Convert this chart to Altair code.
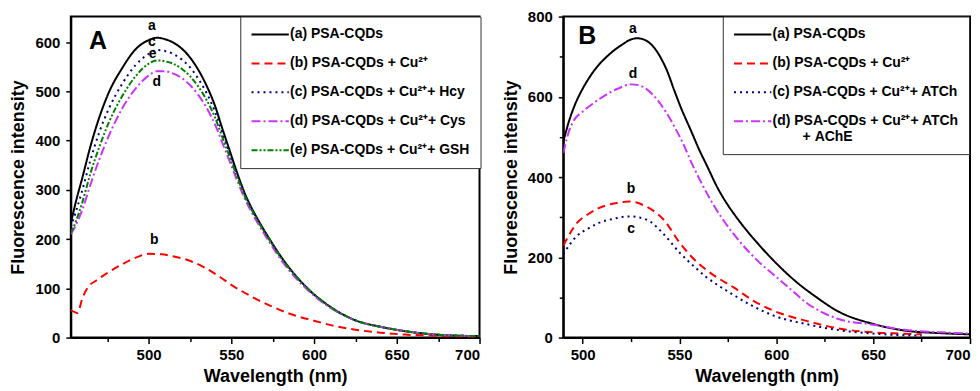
import altair as alt
import pandas as pd

FONT = "Liberation Sans"

# ---------------- Panel A data ----------------
wl_A = [453, 456, 460, 465, 470, 476, 484, 492, 500, 505, 510, 515, 520, 525, 530,
        535, 540, 545, 549, 554, 558, 562, 566, 572, 582, 596, 610, 625, 640, 655,
        670, 685, 700]
A_a = [232, 275, 325, 390, 445, 498, 547, 585, 604, 609, 606, 599, 587, 569, 544,
       512, 472, 420, 380, 330, 294, 265, 240, 206, 155, 100, 62, 35, 22, 13, 7, 4, 3]
A_c = [225, 255, 300, 362, 415, 465, 515, 553, 576, 584, 582, 576, 565, 549, 526,
       497, 460, 412, 374, 326, 291, 263, 238, 205, 154, 100, 62, 35, 22, 13, 7, 4, 3]
A_e = [212, 235, 275, 335, 385, 437, 490, 530, 556, 563, 561, 556, 546, 531, 510,
       483, 448, 403, 367, 322, 288, 261, 237, 204, 153, 100, 62, 35, 22, 13, 7, 4, 3]
A_d = [210, 228, 260, 312, 360, 410, 465, 505, 532, 541, 541, 536, 527, 513, 493,
       467, 434, 392, 358, 315, 283, 256, 232, 199, 149, 97, 60, 35, 22, 13, 7, 4, 3]
wl_A_b = [453, 457, 460, 464, 468, 474, 482, 492, 500, 508, 516, 524, 534, 544, 550,
          556, 564, 574, 584, 600, 612, 625, 640, 655, 670, 685, 700]
A_b = [56, 50, 80, 105, 115, 129, 145, 162, 170, 169, 164, 157, 142, 121, 107,
       95, 80, 64, 50, 34, 24, 16, 10, 6, 4, 2, 1]

names_A = ["(a) PSA-CQDs", "(b) PSA-CQDs + Cu²⁺", "(c) PSA-CQDs + Cu²⁺+ Hcy",
           "(d) PSA-CQDs + Cu²⁺+ Cys", "(e) PSA-CQDs + Cu²⁺+ GSH"]
colors_A = ["#000000", "#FF0000", "#000080", "#CC33FF", "#008000"]
dashes_A = [[1, 0], [8, 5], [2, 4], [9, 3, 2, 3], [6, 2, 2, 2, 2, 2]]

curve_lbl_A = ["a", "c", "e", "d", "b"]
curve_lbl_A_x = [502, 502, 502.5, 505, 503.5]
curve_lbl_A_y = [632, 600, 575, 519, 199]

# ---------------- Panel B data ----------------
wl_B_a = [490, 493, 496, 500, 504, 508, 512, 516, 521, 524, 528, 532, 537, 540, 544,
          547, 551, 556, 560, 564, 570, 575, 580, 585, 590, 595, 600, 610, 620, 632,
          650, 667, 685, 700]
B_a = [488, 540, 580, 620, 652, 678, 698, 715, 732, 741, 746, 742, 722, 700, 660,
       620, 570, 515, 470, 430, 370, 330, 296, 265, 237, 210, 185, 140, 103, 65,
       34, 17, 11, 8]
wl_B_d = [490, 493, 496, 500, 505, 512, 518, 525, 529, 533, 539, 547, 552, 556, 560,
          565, 572, 581, 590, 599, 608, 616, 625, 633, 650, 667, 685, 700]
B_d = [460, 515, 545, 563, 582, 605, 620, 631, 629, 619, 590, 529, 482, 438, 398,
       352, 297, 240, 193, 155, 118, 85, 60, 45, 32, 19, 13, 10]
wl_B_bc = [490, 497, 503, 508, 516, 524, 533, 542, 550, 559, 564, 570, 578, 588, 599,
           616, 633, 650, 664, 675]
B_b = [229, 285, 308, 322, 334, 339, 326, 293, 237, 188, 168, 148, 125, 92, 66,
       41, 22, 13, 10, 8]
B_c = [208, 253, 272, 285, 296, 302, 294, 257, 212, 171, 150, 130, 106, 78, 54,
       33, 18, 10, 6, 5]

names_B = ["(a) PSA-CQDs", "(b) PSA-CQDs + Cu²⁺", "(c) PSA-CQDs + Cu²⁺+ ATCh",
           "(d) PSA-CQDs + Cu²⁺+ ATCh|\u2800\u2800\u2800+ AChE"]
colors_B = ["#000000", "#FF0000", "#000080", "#CC33FF"]
dashes_B = [[1, 0], [8, 5], [2, 4], [9, 3, 2, 3]]

curve_lbl_B = ["a", "d", "b", "c"]
curve_lbl_B_x = [526, 526, 525, 525]
curve_lbl_B_y = [770, 657, 370, 271]


def long_df(pairs, names):
    rows = []
    for (wl, vals), nm in zip(pairs, names):
        for w, v in zip(wl, vals):
            rows.append({"wl": w, "val": v, "series": nm})
    return pd.DataFrame(rows)


dfA = long_df([(wl_A, A_a), (wl_A_b, A_b), (wl_A, A_c), (wl_A, A_d), (wl_A, A_e)], names_A)
dfB = long_df([(wl_B_a, B_a), (wl_B_bc, B_b), (wl_B_bc, B_c), (wl_B_d, B_d)], names_B)

lblA = pd.DataFrame({"t": curve_lbl_A, "x": curve_lbl_A_x, "y": curve_lbl_A_y})
lblB = pd.DataFrame({"t": curve_lbl_B, "x": curve_lbl_B_x, "y": curve_lbl_B_y})


def panel(df, lbl, names, colors, dashes, xdom, ydom, xticks, yticks, ymajor,
          letter, letter_x, letter_y, leg_x, width, height):
    xsc = alt.Scale(domain=xdom, nice=False, zero=False)
    ysc = alt.Scale(domain=ydom, nice=False, zero=False)
    xaxis = alt.Axis(values=xticks, title="Wavelength (nm)",
                     labelExpr="datum.value % 50 === 0 ? datum.label : ''",
                     tickSize={"condition": {"test": "datum.value % 50 === 0", "value": 6}, "value": 4},
                     labelPadding=4, titlePadding=5, labelOverlap=False)
    yaxis = alt.Axis(values=yticks, title="Fluorescence intensity",
                     labelExpr=f"datum.value % {ymajor} === 0 ? datum.label : ''",
                     tickSize={"condition": {"test": f"datum.value % {ymajor} === 0", "value": 5}, "value": 4},
                     labelPadding=6, titlePadding=7, labelOverlap=False)
    legend = alt.Legend(title=None, orient="none", legendX=leg_x, legendY=0,
                        direction="vertical", strokeColor="#333333", fillColor="white",
                        padding=10, symbolType="stroke", symbolSize=1400,
                        symbolStrokeWidth=2, labelFont=FONT, labelFontWeight="bold",
                        labelFontSize=14, labelColor="black", labelLimit=400,
                        clipHeight=16, rowPadding=13, labelOffset=0,
                        labelExpr="split(datum.label, '|')")
    lines = alt.Chart(df).mark_line(strokeWidth=2, interpolate="monotone", clip=True).encode(
        x=alt.X("wl:Q", scale=xsc, axis=xaxis),
        y=alt.Y("val:Q", scale=ysc, axis=yaxis),
        color=alt.Color("series:N", scale=alt.Scale(domain=names, range=colors), legend=legend),
        strokeDash=alt.StrokeDash("series:N", scale=alt.Scale(domain=names, range=dashes), legend=legend),
        detail="series:N",
    )
    txt = alt.Chart(lbl).mark_text(font=FONT, fontWeight="bold", fontSize=14,
                                   color="black", baseline="middle", align="center").encode(
        x=alt.X("x:Q", scale=xsc), y=alt.Y("y:Q", scale=ysc), text="t:N")
    let_df = pd.DataFrame({"t": [letter], "x": [letter_x], "y": [letter_y]})
    let = alt.Chart(let_df).mark_text(font=FONT, fontWeight="bold", fontSize=25,
                                      color="black", baseline="middle", align="center").encode(
        x=alt.X("x:Q", scale=xsc), y=alt.Y("y:Q", scale=ysc), text="t:N")
    return alt.layer(lines, txt, let).properties(width=width, height=height)


pA = panel(dfA, lblA, names_A, colors_A, dashes_A, [453, 700], [0, 652],
           list(range(475, 701, 25)), list(range(0, 651, 50)), 100,
           "A", 469.5, 602, 170, 410, 322)
pB = panel(dfB, lblB, names_B, colors_B, dashes_B, [490, 700], [0, 800],
           list(range(500, 701, 25)), list(range(0, 801, 100)), 200,
           "B", 502.4, 751, 160, 408, 322)

chart = alt.hconcat(pA, pB, spacing=18).resolve_scale(
    color="independent", strokeDash="independent"
).properties(padding={"left": 0, "top": 0, "right": 0, "bottom": 0}).configure_view(
    stroke="black", strokeWidth=2
).configure_axis(
    labelFont=FONT, labelFontWeight="bold", labelFontSize=15, labelColor="black",
    titleFont=FONT, titleFontWeight="bold", titleFontSize=18, titleColor="black",
    domainColor="black", domainWidth=2, tickColor="black", tickWidth=1.5, grid=False
)

chart.save("out.html", embed_options={"renderer": "svg", "actions": False})
